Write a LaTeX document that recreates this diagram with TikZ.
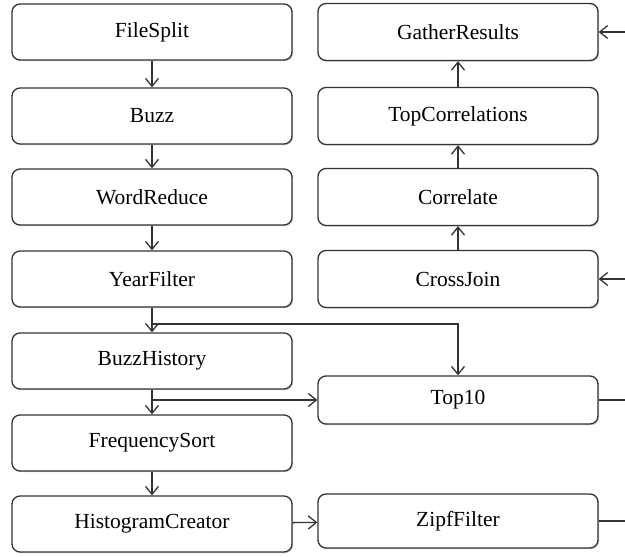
\documentclass[tikz,border=0pt]{standalone}
\usepackage{fontspec}
\setmainfont{Liberation Serif}
\usetikzlibrary{arrows.meta, shadows, positioning}

\begin{document}
\begin{tikzpicture}[x=1pt,y=-1pt,->,>={Straight Barb[length=8pt,width=13pt]},
 line width=1.3pt,draw=black!80,node distance=82pt,
 job/.style={rectangle,draw,rounded corners=8pt,fill=white,
   drop shadow={shadow xshift=1.2pt,shadow yshift=-1.2pt,fill=black!35},
   minimum width=280pt,minimum height=56pt,font=\fontsize{21.5}{25}\selectfont}]
   \useasboundingbox (0,0) rectangle (625,557);
   % left column
   \node[job] (FileSplit) at (152,32) {FileSplit};
   \node[job] (Buzz) [below of=FileSplit, yshift=-2pt] {Buzz};
   \node[job] (WordReduce) [below of=Buzz, yshift=1pt] {WordReduce};
   \node[job] (YearFilter) [below of=WordReduce] {YearFilter};
   \node[job] (BuzzHistory) [below of=YearFilter] {BuzzHistory};
   \node[job] (FrequencySort) [below of=BuzzHistory] {FrequencySort};
   \node[job] (HistogramCreator) [below of=FrequencySort, yshift=1pt] {HistogramCreator};
   % right column
   \node[job] (GatherResults) at (458,32) [minimum height=57pt] {GatherResults};
   \node[job] (TopCorrelations) [below of=GatherResults, yshift=-2pt, minimum height=57pt] {TopCorrelations};
   \node[job] (Correlate) [below of=TopCorrelations, yshift=1pt, minimum height=57pt] {Correlate};
   \node[job] (CrossJoin) [below of=Correlate, minimum height=57pt] {CrossJoin};
   \node[job] (Top10) at (458,400) [minimum height=48pt] {Top10};
   \node[job] (ZipfFilter) at (458,521) [minimum height=54pt] {ZipfFilter};

   \coordinate (inGather) at (625,32);
   \coordinate (inCross) at (625,279);
   \coordinate (outTop) at (625,400);
   \coordinate (outZipf) at (625,521);
   \coordinate (split1) at (152,324);
   \coordinate (split2) at (152,400);

  \foreach \s/\t in {FileSplit/Buzz, Buzz/WordReduce, WordReduce/YearFilter,
     YearFilter/BuzzHistory, BuzzHistory/FrequencySort, FrequencySort/HistogramCreator,
     CrossJoin/Correlate, Correlate/TopCorrelations, TopCorrelations/GatherResults} {
   \path[draw] (\s) -- (\t);}
  \draw (split1) -| (Top10.north);
  \draw (split2) -- (Top10.west);
  \draw (HistogramCreator) -- (ZipfFilter);
  \draw (inGather) -- (GatherResults);
  \draw (inCross) -- (CrossJoin);
  \draw[-] (Top10.east) -- (outTop);
  \draw[-] (ZipfFilter.east) -- (outZipf);
\end{tikzpicture}
\end{document}
